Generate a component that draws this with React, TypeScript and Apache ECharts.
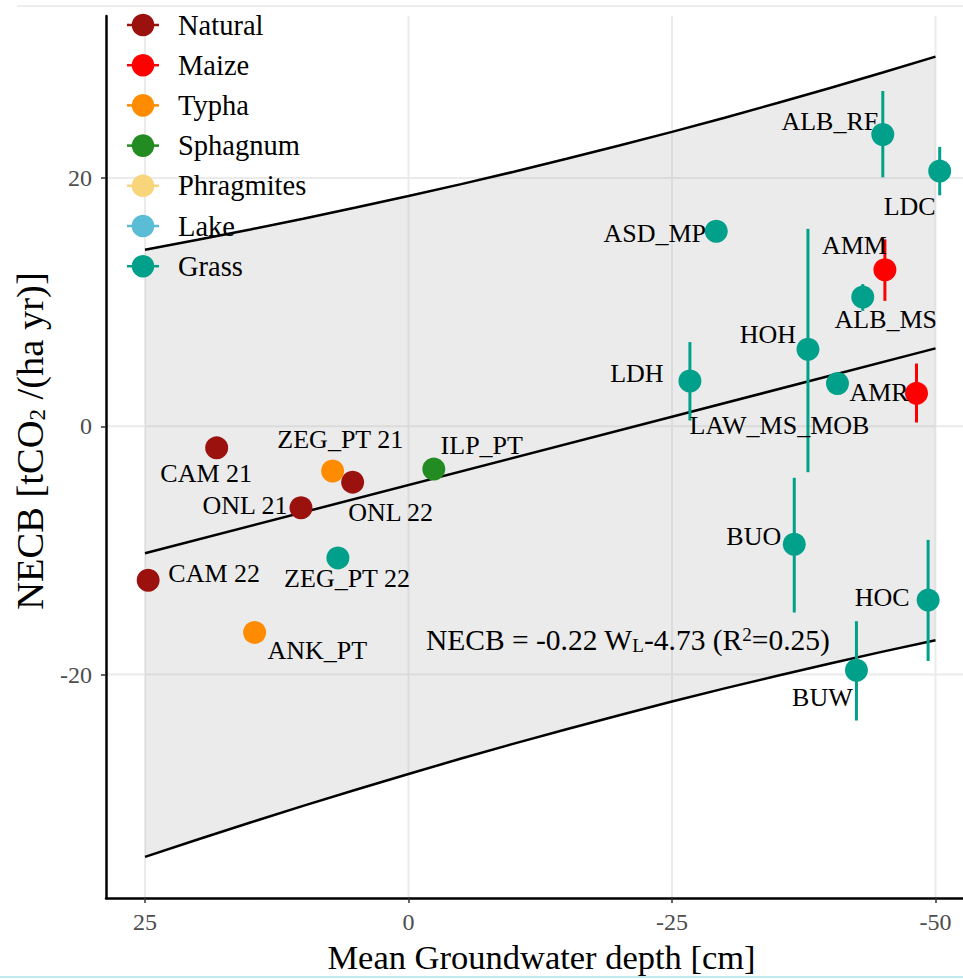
import React, { useEffect, useRef } from "react";
import * as echarts from "echarts";

// ---------- data ----------
const categories = ["Natural", "Maize", "Typha", "Sphagnum", "Phragmites", "Lake", "Grass"];
const categoryColors = ["#9B110E", "#FF0000", "#FF8C00", "#228B22", "#F8D57A", "#5BBCD6", "#00A08A"];

const siteNames = [
  "CAM 21", "CAM 22", "ONL 21", "ONL 22", "ZEG_PT 21", "ANK_PT", "ILP_PT", "ZEG_PT 22",
  "ASD_MP", "LDH", "HOH", "LAW_MS_MOB", "ALB_MS", "ALB_RF", "LDC", "BUO", "BUW", "HOC",
  "AMM", "AMR",
];
const siteCategories = [
  "Natural", "Natural", "Natural", "Natural", "Typha", "Typha", "Sphagnum", "Grass",
  "Grass", "Grass", "Grass", "Grass", "Grass", "Grass", "Grass", "Grass", "Grass", "Grass",
  "Maize", "Maize",
];
const siteDepth = [
  18.2, 24.7, 10.2, 5.3, 7.2, 14.6, -2.4, 6.7,
  -29.2, -26.7, -37.9, -40.7, -43.1, -45.0, -50.4, -36.6, -42.5, -49.3,
  -45.2, -48.2,
];
const siteNECB = [
  -1.74, -12.4, -6.56, -4.5, -3.6, -16.6, -3.45, -10.6,
  15.7, 3.65, 6.2, 3.45, 10.4, 23.5, 20.55, -9.5, -19.65, -14.0,
  12.6, 2.65,
];
const siteErrLow: (number | null)[] = [
  null, null, null, null, null, null, null, null,
  null, 0.46, -3.7, null, 9.3, 20.05, 18.6, -15.0, -23.7, -18.9,
  10.1, 0.3,
];
const siteErrHigh: (number | null)[] = [
  null, null, null, null, null, null, null, null,
  null, 6.78, 15.9, null, 11.45, 27.0, 22.5, -4.15, -15.7, -9.15,
  15.05, 5.05,
];

const bandDepth = [25, 20, 15, 10, 5, 0, -5, -10, -15, -20, -25, -30, -35, -40, -45, -50];
const bandUpper = [14.22, 15.02, 15.85, 16.71, 17.61, 18.54, 19.5, 20.5, 21.54, 22.61, 23.71, 24.85, 26.03, 27.24, 28.49, 29.77];
const bandLower = [-34.68, -33.28, -31.91, -30.57, -29.27, -28.0, -26.76, -25.56, -24.4, -23.27, -22.17, -21.11, -20.09, -19.1, -18.15, -17.23];

const fitDepth = [25, -50];
const fitNECB = [-10.23, 6.27];

const xTickValues = [25, 0, -25, -50];
const yTickValues = [-20, 0, 20];

const equationPos = [-20.8, -17.2];

// label placement (pixel offsets from the point centre)
const labelOffsets: Record<string, [number, number]> = {
  "ALB_RF": [-53, -12.5],
  "LDC": [-30, 35],
  "ASD_MP": [-61.5, 2],
  "AMM": [-30.5, -24],
  "ALB_MS": [23, 22],
  "HOH": [-40, -14.5],
  "LDH": [-53, -7.5],
  "LAW_MS_MOB": [-58, 42],
  "AMR": [-37.5, -1],
  "BUO": [-40.5, -7.7],
  "HOC": [-46, -3],
  "BUW": [-34, 27],
  "ILP_PT": [48, -23.6],
  "CAM 21": [-10.5, 25.6],
  "CAM 22": [66, -6.5],
  "ONL 21": [-56, -2],
  "ONL 22": [38, 30.4],
  "ZEG_PT 21": [7.7, -31.8],
  "ZEG_PT 22": [9.2, 21],
  "ANK_PT": [62.7, 18.6],
};

const FONT = "'Liberation Serif', 'Times New Roman', serif";
const AXIS_TEXT = "#4D4D4D";

function buildOption(): any {
  const series: any[] = [];

  // vertical gridlines
  series.push({
    type: "custom",
    name: "vgrid",
    silent: true,
    z: 0,
    data: xTickValues.map((v) => [v, 0]),
    renderItem: (params: any, api: any) => {
      const cs = params.coordSys;
      const x = api.coord([api.value(0), 0])[0];
      return {
        type: "line",
        shape: { x1: x, y1: cs.y, x2: x, y2: cs.y + cs.height },
        style: { stroke: "#EBEBEB", lineWidth: 2 },
      };
    },
  });
  // horizontal gridlines
  series.push({
    type: "custom",
    name: "hgrid",
    silent: true,
    z: 0,
    data: yTickValues.map((v) => [0, v]),
    renderItem: (params: any, api: any) => {
      const cs = params.coordSys;
      const y = api.coord([0, api.value(1)])[1];
      return {
        type: "line",
        shape: { x1: cs.x, y1: y, x2: cs.x + cs.width, y2: y },
        style: { stroke: "#EBEBEB", lineWidth: 2 },
      };
    },
  });

  // confidence band
  series.push({
    type: "custom",
    name: "band",
    silent: true,
    z: 1,
    data: [[bandDepth[0], bandLower[0]]],
    renderItem: (_params: any, api: any) => {
      const pts: number[][] = [];
      for (let i = 0; i < bandDepth.length; i++) pts.push(api.coord([bandDepth[i], bandUpper[i]]));
      for (let i = bandDepth.length - 1; i >= 0; i--) pts.push(api.coord([bandDepth[i], bandLower[i]]));
      return {
        type: "polygon",
        shape: { points: pts },
        style: { fill: "rgba(153,153,153,0.2)" },
      };
    },
  });

  const lineStyle = { color: "#000", width: 2.5 };
  series.push({
    type: "line", name: "upper", silent: true, z: 2, symbol: "none",
    data: bandDepth.map((d, i) => [d, bandUpper[i]]), lineStyle,
  });
  series.push({
    type: "line", name: "lower", silent: true, z: 2, symbol: "none",
    data: bandDepth.map((d, i) => [d, bandLower[i]]), lineStyle,
  });
  series.push({
    type: "line", name: "fit", silent: true, z: 2, symbol: "none",
    data: fitDepth.map((d, i) => [d, fitNECB[i]]), lineStyle,
  });

  categories.forEach((cat, ci) => {
    const idx = siteNames.map((_, i) => i).filter((i) => siteCategories[i] === cat);
    if (!idx.length) return;
    const color = categoryColors[ci];
    const errIdx = idx.filter((i) => siteErrLow[i] != null);
    if (errIdx.length) {
      series.push({
        type: "custom",
        name: cat + " range",
        silent: true,
        z: 3,
        data: errIdx.map((i) => [siteDepth[i], siteErrLow[i], siteErrHigh[i]]),
        encode: { x: 0, y: [1, 2] },
        renderItem: (_params: any, api: any) => {
          const p1 = api.coord([api.value(0), api.value(1)]);
          const p2 = api.coord([api.value(0), api.value(2)]);
          return {
            type: "line",
            shape: { x1: p1[0], y1: p1[1], x2: p2[0], y2: p2[1] },
            style: { stroke: color, lineWidth: 3 },
          };
        },
      });
    }
    series.push({
      type: "scatter",
      name: cat,
      z: 4,
      symbol: "circle",
      symbolSize: 23,
      itemStyle: { color, opacity: 1 },
      label: {
        show: true,
        position: "inside",
        formatter: "{b}",
        fontFamily: FONT,
        fontSize: 26,
        color: "#000",
        textBorderWidth: 0,
      },
      data: idx.map((i) => ({
        name: siteNames[i],
        value: [siteDepth[i], siteNECB[i]],
        label: { offset: labelOffsets[siteNames[i]] || [0, 0] },
      })),
    });
  });

  // regression equation
  series.push({
    type: "scatter",
    name: "equation",
    silent: true,
    z: 5,
    symbolSize: 1,
    itemStyle: { color: "#000", opacity: 0 },
    data: [{ name: "eq", value: equationPos }],
    label: {
      show: true,
      position: "inside",
      color: "#000",
      opacity: 1,
      textBorderWidth: 0,
      fontFamily: FONT,
      fontSize: 29.5,
      formatter: "{m|NECB = -0.22 W}{s|L}{m|-4.73 (R}{p|2}{m|=0.25)}",
      rich: {
        m: { fontFamily: FONT, fontSize: 29.5, color: "#000", lineHeight: 30, textBorderWidth: 0 },
        s: { fontFamily: FONT, fontSize: 19, color: "#000", verticalAlign: "bottom", lineHeight: 14, textBorderWidth: 0 },
        p: { fontFamily: FONT, fontSize: 19, color: "#000", verticalAlign: "top", lineHeight: 20, textBorderWidth: 0 },
      },
    },
  });

  const graphic: any[] = [];
  // legend
  categories.forEach((cat, i) => {
    const cy = 25 + i * 40.2;
    graphic.push({
      type: "line", z: 10, silent: true,
      shape: { x1: 127, y1: cy, x2: 159, y2: cy },
      style: { stroke: categoryColors[i], lineWidth: 2.5 },
    });
    graphic.push({
      type: "circle", z: 10, silent: true,
      shape: { cx: 143, cy, r: 11.3 },
      style: { fill: categoryColors[i] },
    });
    graphic.push({
      type: "text", z: 10, silent: true,
      x: 178, y: cy,
      style: { text: cat, fontFamily: FONT, fontSize: 28.5, fill: "#000", align: "left", verticalAlign: "middle" },
    });
  });
  // page decorations seen in the reference
  graphic.push({
    type: "line", silent: true, z: 0,
    shape: { x1: 17, y1: 6, x2: 963, y2: 6 },
    style: { stroke: "#EDEDED", lineWidth: 2 },
  });
  graphic.push({
    type: "line", silent: true, z: 0,
    shape: { x1: 0, y1: 977, x2: 963, y2: 977 },
    style: { stroke: "#BDEBF0", lineWidth: 2 },
  });

  return {
    animation: false,
    backgroundColor: "#FFFFFF",
    grid: { left: 106, top: 16, width: 857, height: 888, containLabel: false },
    xAxis: {
      type: "value",
      inverse: true,
      min: -52.61,
      max: 28.7,
      name: "Mean Groundwater depth [cm]",
      nameLocation: "middle",
      nameGap: 37,
      nameTextStyle: { fontFamily: FONT, fontSize: 34.5, color: "#000", padding: [0, 0, 0, 14] },
      axisLine: { show: true, onZero: false, lineStyle: { color: "#000", width: 2.5 } },
      axisTick: { show: true, length: 5, customValues: xTickValues, lineStyle: { color: "#333", width: 1.5 } },
      axisLabel: { customValues: xTickValues, margin: 12, fontFamily: FONT, fontSize: 24, color: AXIS_TEXT },
      splitLine: { show: false },
    },
    yAxis: {
      type: "value",
      min: -38,
      max: 33.04,
      name: "NECB [tCO{s|2} /(ha yr)]",
      nameLocation: "middle",
      nameGap: 51,
      nameRotate: 90,
      nameTextStyle: {
        fontFamily: FONT,
        fontSize: 38.5,
        color: "#000",
        padding: [0, 0, 0, 32],
        rich: {
          s: { fontFamily: FONT, fontSize: 23, color: "#000", verticalAlign: "bottom", lineHeight: 14 },
        },
      },
      axisLine: { show: true, onZero: false, lineStyle: { color: "#000", width: 2.5 } },
      axisTick: { show: true, length: 5, customValues: yTickValues, lineStyle: { color: "#333", width: 1.5 } },
      axisLabel: { customValues: yTickValues, margin: 14, fontFamily: FONT, fontSize: 24, color: AXIS_TEXT },
      splitLine: { show: false },
    },
    graphic,
    series,
  };
}

export default function App() {
  const ref = useRef<HTMLDivElement>(null);
  useEffect(() => {
    const el = ref.current;
    if (!el) return;
    const chart = echarts.init(el, null, { renderer: "svg" });
    chart.setOption(buildOption());
    return () => chart.dispose();
  }, []);
  return (
    <div
      ref={ref}
      style={{ position: "absolute", left: 0, top: 0, width: 963, height: 979, background: "#fff" }}
    />
  );
}
